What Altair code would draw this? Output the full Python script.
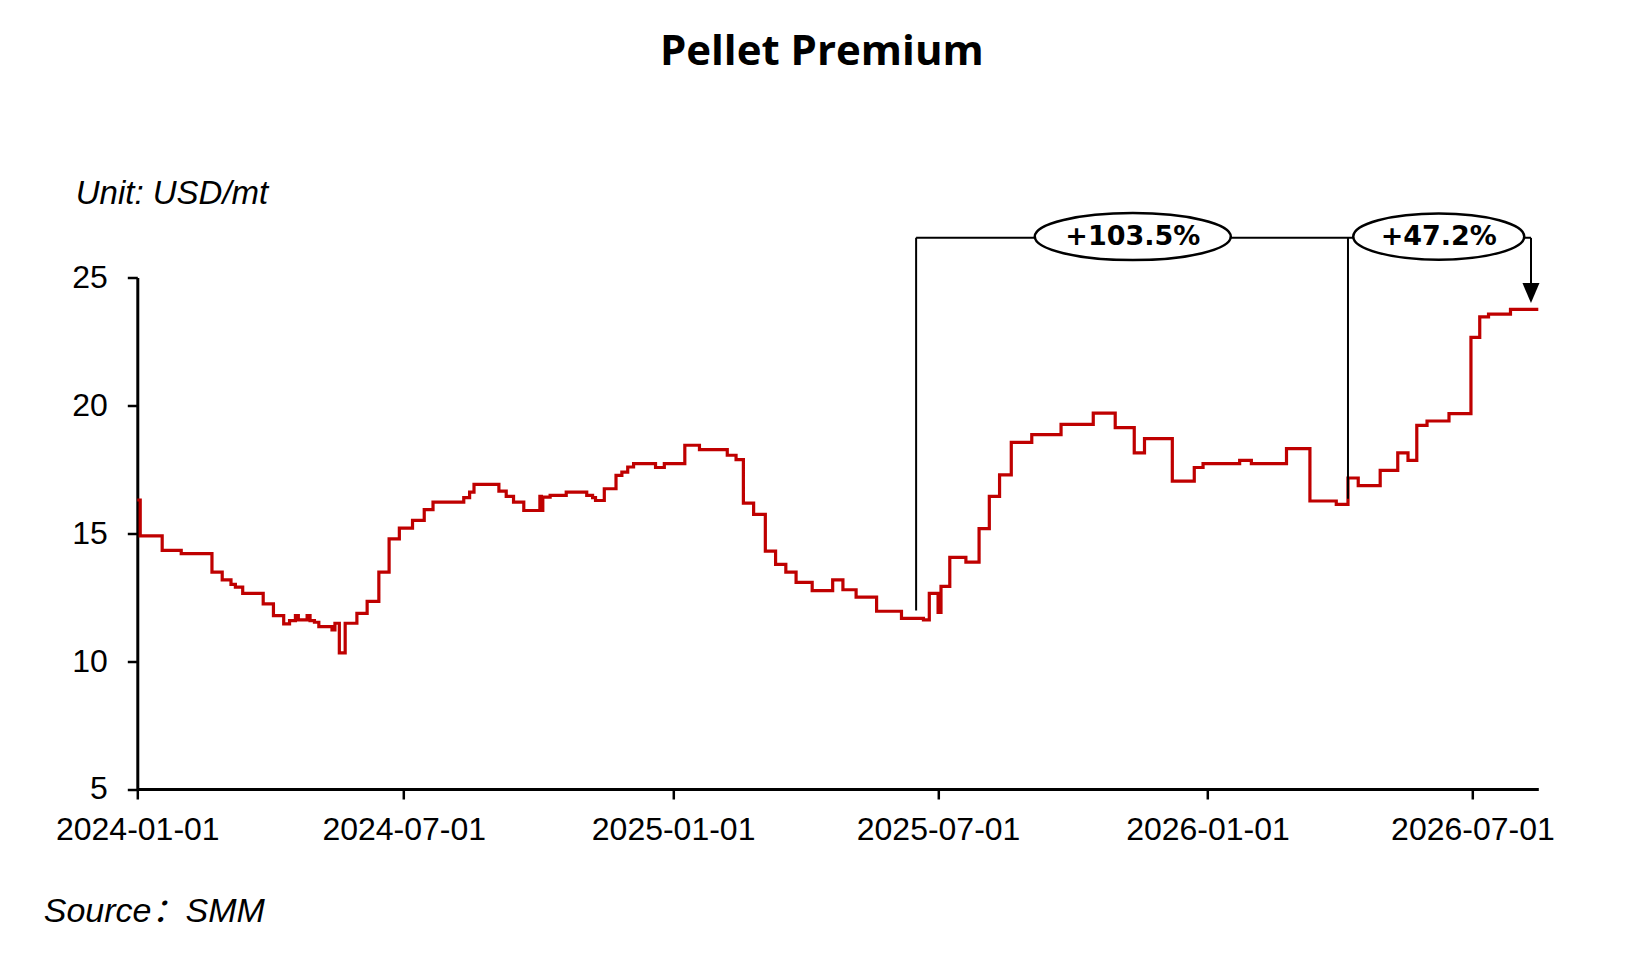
import altair as alt
import pandas as pd

# ---- main series (step data) ----
dates = [
    "2024-01-01", "2024-01-03", "2024-01-18", "2024-01-31", "2024-02-21", "2024-02-28",
    "2024-03-05", "2024-03-08", "2024-03-13", "2024-03-27", "2024-04-03", "2024-04-10",
    "2024-04-14", "2024-04-18", "2024-04-20", "2024-04-26", "2024-04-28", "2024-05-01",
    "2024-05-04", "2024-05-13", "2024-05-15", "2024-05-18", "2024-05-22", "2024-05-30",
    "2024-06-06", "2024-06-14", "2024-06-21", "2024-06-28", "2024-07-07", "2024-07-15",
    "2024-07-21", "2024-08-11", "2024-08-15", "2024-08-18", "2024-09-04", "2024-09-09",
    "2024-09-14", "2024-09-21", "2024-10-02", "2024-10-03", "2024-10-04", "2024-10-09",
    "2024-10-20", "2024-11-03", "2024-11-07", "2024-11-09", "2024-11-15", "2024-11-23",
    "2024-11-27", "2024-12-01", "2024-12-05", "2024-12-20", "2024-12-26", "2025-01-09",
    "2025-01-19", "2025-02-07", "2025-02-13", "2025-02-18", "2025-02-25", "2025-03-05",
    "2025-03-12", "2025-03-19", "2025-03-26", "2025-04-06", "2025-04-20", "2025-04-27",
    "2025-05-06", "2025-05-20", "2025-06-06", "2025-06-21", "2025-06-25", "2025-07-01",
    "2025-07-03", "2025-07-09", "2025-07-20", "2025-07-29", "2025-08-05", "2025-08-12",
    "2025-08-20", "2025-09-03", "2025-09-23", "2025-10-15", "2025-10-30", "2025-11-12",
    "2025-11-19", "2025-12-08", "2025-12-23", "2025-12-29", "2026-01-23", "2026-01-31",
    "2026-02-24", "2026-03-12", "2026-03-30", "2026-04-07", "2026-04-14", "2026-04-29",
    "2026-05-11", "2026-05-18", "2026-05-24", "2026-05-31", "2026-06-15", "2026-06-30",
    "2026-07-06", "2026-07-12", "2026-07-27", "2026-08-15",
]
values = [
    16.30, 14.90, 14.33, 14.20, 13.48, 13.18,
    13.00, 12.89, 12.65, 12.24, 11.78, 11.46,
    11.58, 11.78, 11.61, 11.78, 11.58, 11.52,
    11.35, 11.22, 11.48, 10.32, 11.48, 11.87,
    12.34, 13.48, 14.78, 15.20, 15.50, 15.92,
    16.22, 16.39, 16.61, 16.91, 16.65, 16.44,
    16.22, 15.89, 16.44, 15.89, 16.41, 16.48,
    16.61, 16.48, 16.39, 16.28, 16.74, 17.26,
    17.39, 17.59, 17.72, 17.57, 17.72, 18.44,
    18.27, 18.05, 17.88, 16.18, 15.74, 14.30,
    13.78, 13.48, 13.08, 12.76, 13.18, 12.79,
    12.50, 11.95, 11.67, 11.61, 12.65, 11.91,
    12.92, 14.06, 13.87, 15.18, 16.44, 17.28,
    18.55, 18.86, 19.26, 19.70, 19.13, 18.14,
    18.70, 17.04, 17.57, 17.72, 17.85, 17.72,
    18.31, 16.26, 16.13, 17.16, 16.86, 17.46,
    18.14, 17.85, 19.22, 19.39, 19.68, 22.66,
    23.46, 23.57, 23.75, 23.75,
]

# ---- annotation (bracket with percentage labels) ----
bracket_dates = ["2025-06-16", "2026-04-07", "2026-08-10"]
bracket_bases = [11.98, 16.35, 24.60]
bracket_level = 26.55
arrow_head_value = 24.39
label_dates = ["2025-11-11", "2026-06-08"]
label_texts = ["+103.5%", "+47.2%"]
label_value = 26.60

y_ticks = [5, 10, 15, 20, 25]

df = pd.DataFrame({"date": dates, "value": values})
vert_df = pd.DataFrame({"date": bracket_dates, "value": bracket_bases,
                        "value2": [bracket_level] * len(bracket_dates)})
horiz_df = pd.DataFrame({"date": [bracket_dates[0]], "date2": [bracket_dates[-1]],
                         "value": [bracket_level]})
arrow_df = pd.DataFrame({"date": [bracket_dates[-1]], "value": [arrow_head_value]})
lab_df = pd.DataFrame({"date": label_dates, "value": [label_value] * 2, "label": label_texts})

LABEL_FONT = "Liberation Sans"
x_scale = alt.Scale(type="utc",
                    domain=[alt.DateTime(year=2024, month=1, date=1, utc=True),
                            alt.DateTime(year=2026, month=8, date=15, utc=True)])
y_scale = alt.Scale(domain=[5, 25], nice=False, zero=False)

x_axis = alt.Axis(
    values=[alt.DateTime(year=y, month=m, date=1, utc=True)
            for (y, m) in [(2024, 1), (2024, 7), (2025, 1), (2025, 7), (2026, 1), (2026, 7)]],
    format="%Y-%m-%d", grid=False, domainColor="black", domainWidth=3,
    tickColor="black", tickWidth=2.5, tickSize=10, labelFont=LABEL_FONT,
    labelFontSize=32, labelColor="black", labelPadding=16, labelFlush=False,
    labelOverlap=False,
    title="Source\uff1aSMM", titleFont="Liberation Sans, Noto Sans CJK SC",
    titleFontStyle="italic", titleFontWeight="normal", titleFontSize=34,
    titleColor="black", titleAngle=0, titleAlign="left", titleBaseline="alphabetic",
    titleX=-94, titleY=133,
)
y_axis = alt.Axis(
    values=y_ticks, grid=False, domainColor="black", domainWidth=3,
    tickColor="black", tickWidth=2.5, tickSize=10, labelFont=LABEL_FONT,
    labelFontSize=32, labelColor="black", labelPadding=20,
    title="Unit: USD/mt", titleFont=LABEL_FONT, titleFontStyle="italic",
    titleFontWeight="normal", titleFontSize=33, titleColor="black", titleAngle=0,
    titleAlign="left", titleBaseline="alphabetic", titleX=-62, titleY=-74,
)

line = alt.Chart(df).mark_line(interpolate="step-after", color="#bf0000", strokeWidth=3.2).encode(
    x=alt.X("date:T", scale=x_scale, axis=x_axis),
    y=alt.Y("value:Q", scale=y_scale, axis=y_axis),
)

verticals = alt.Chart(vert_df).mark_rule(color="black", strokeWidth=2).encode(
    x="date:T", y="value:Q", y2="value2:Q")
horizontal = alt.Chart(horiz_df).mark_rule(color="black", strokeWidth=2).encode(
    x="date:T", x2="date2:T", y="value:Q")
arrow = alt.Chart(arrow_df).mark_point(
    shape="M -0.85 -1 L 0.85 -1 L 0 1 Z", size=400, filled=True, color="black",
    opacity=1, strokeWidth=0).encode(x="date:T", y="value:Q")

ell1 = alt.Chart(lab_df.iloc[[0]]).mark_point(
    shape="M -1 0 A 1 0.24 0 1 1 1 0 A 1 0.24 0 1 1 -1 0 Z", size=38416,
    filled=True, fill="white", stroke="black", strokeWidth=2.5, opacity=1,
).encode(x="date:T", y="value:Q")
ell2 = alt.Chart(lab_df.iloc[[1]]).mark_point(
    shape="M -1 0 A 1 0.27 0 1 1 1 0 A 1 0.27 0 1 1 -1 0 Z", size=29241,
    filled=True, fill="white", stroke="black", strokeWidth=2.5, opacity=1,
).encode(x="date:T", y="value:Q")
labels = alt.Chart(lab_df).mark_text(
    font="DejaVu Sans", fontWeight="bold", fontSize=27, color="black",
    align="center", baseline="middle").encode(x="date:T", y="value:Q", text="label:N")

chart = alt.layer(line, verticals, horizontal, arrow, ell1, ell2, labels).properties(
    width=1401, height=511.5,
    background="white",
    autosize=alt.AutoSizeParams(type="none"),
    padding={"left": 129.3, "top": 269.5, "right": 90, "bottom": 150},
    title=alt.Title("Pellet Premium", font="Open Sans", fontSize=42, fontWeight="bold",
                    color="black", anchor="middle", frame="group", dx=-16, offset=71,
                    baseline="alphabetic"),
).configure_view(stroke=None)

chart.save("out.html", embed_options={"renderer": "svg", "actions": False})
